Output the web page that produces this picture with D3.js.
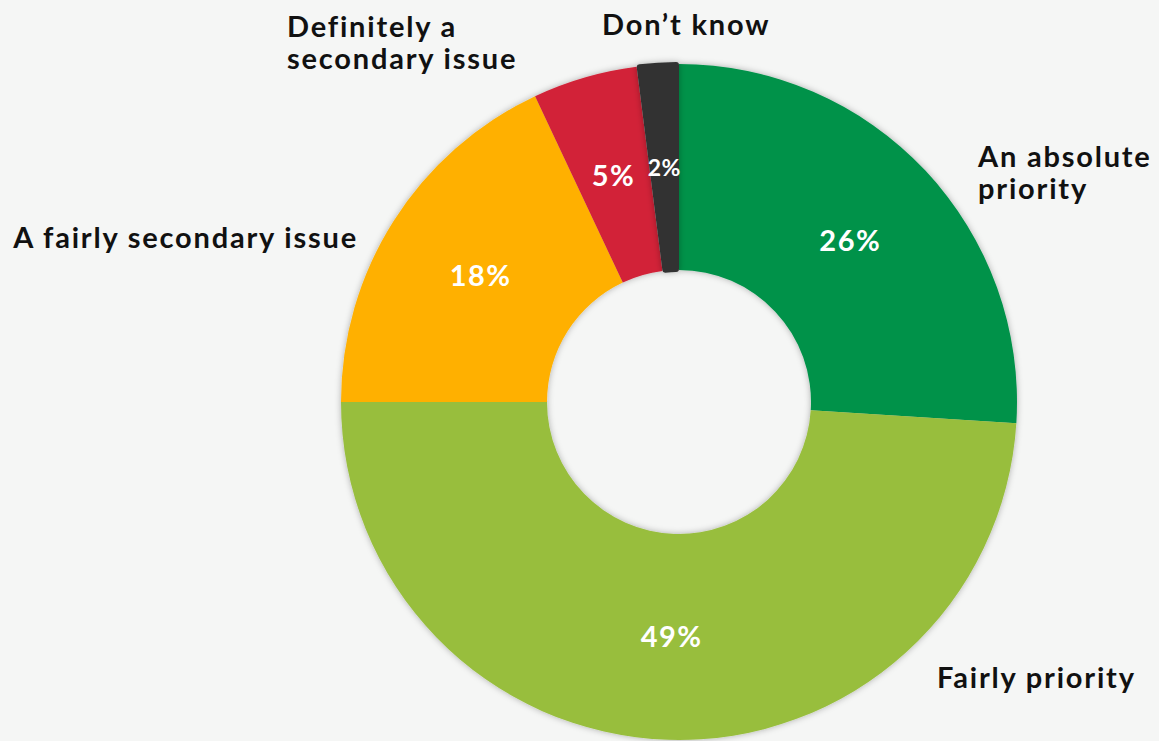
<!DOCTYPE html>
<html>
<head>
<meta charset="utf-8">
<script src="https://cdn.jsdelivr.net/npm/d3@7"></script>
<style>
  html, body { margin: 0; padding: 0; background: #f5f6f5; }
  svg { display: block; }
  text { font-family: Lato, "Noto Sans", sans-serif; font-weight: 700; }
</style>
</head>
<body>
<svg id="chart" width="1159" height="741"></svg>
<script>
// Survey answers, clockwise from 12 o'clock
const categories = ["An absolute priority", "Fairly priority", "A fairly secondary issue", "Definitely a secondary issue", "Don\u2019t know"];
const values = [26, 49, 18, 5, 2];
const colors = ["#00924a", "#98be3e", "#ffb000", "#d22237", "#333333"];

// Outside label placement relative to the donut centre (x offset, first baseline, anchor, lines)
const outerLabels = [
  { dx: 299, dy: -235, anchor: "start", lines: ["An absolute", "priority"] },
  { dx: 258, dy: 286, anchor: "start", lines: ["Fairly priority"] },
  { dx: -321, dy: -154, anchor: "end", lines: ["A fairly secondary issue"] },
  { dx: -392, dy: -365, anchor: "start", lines: ["Definitely a", "secondary issue"] },
  { dx: -77, dy: -367, anchor: "start", lines: ["Don\u2019t know"] }
];

const svg = d3.select("#chart");
const cx = 679, cy = 402;
const outerR = 338, innerR = 132;

const defs = svg.append("defs");
const f = defs.append("filter").attr("id", "shadow")
  .attr("x", "-20%").attr("y", "-20%").attr("width", "140%").attr("height", "140%");
f.append("feDropShadow").attr("dx", 0).attr("dy", 0).attr("stdDeviation", 3)
  .attr("flood-color", "#000").attr("flood-opacity", 0.3);

const data = categories.map((c, i) => ({ name: c, value: values[i], color: colors[i], label: outerLabels[i] }));

const pie = d3.pie().value(d => d.value).sort(null);
const arcs = pie(data);

const arc = d3.arc().innerRadius(innerR).outerRadius(outerR);
// the last, smallest slice is drawn slightly raised with soft corners
const arcRaised = d3.arc().innerRadius(innerR - 2).outerRadius(outerR + 2).cornerRadius(3);

const g = svg.append("g").attr("transform", `translate(${cx},${cy})`);

g.append("g").attr("filter", "url(#shadow)")
  .selectAll("path")
  .data(arcs.slice(0, arcs.length - 1))
  .join("path")
  .attr("d", arc)
  .attr("fill", d => d.data.color);

g.append("path")
  .datum(arcs[arcs.length - 1])
  .attr("filter", "url(#shadow)")
  .attr("d", arcRaised)
  .attr("fill", d => d.data.color);

// percentage labels at slice centroids
g.selectAll("text.pct")
  .data(arcs)
  .join("text")
  .attr("class", "pct")
  .attr("transform", d => `translate(${arc.centroid(d)})`)
  .attr("text-anchor", "middle")
  .attr("dy", "0.35em")
  .attr("fill", "#ffffff")
  .attr("font-size", d => d.data.value < 3 ? 23 : 29)
  .attr("letter-spacing", d => d.data.value < 3 ? 0.5 : 1.5)
  .text(d => d.data.value + "%");

// category labels outside the ring
const ol = g.selectAll("text.cat")
  .data(arcs)
  .join("text")
  .attr("class", "cat")
  .attr("x", d => d.data.label.dx)
  .attr("y", d => d.data.label.dy)
  .attr("text-anchor", d => d.data.label.anchor)
  .attr("fill", "#111111")
  .attr("font-size", 29)
  .attr("letter-spacing", 1.8);

ol.selectAll("tspan")
  .data(d => d.data.label.lines.map((t, i) => ({ t, i, x: d.data.label.dx })))
  .join("tspan")
  .attr("x", d => d.x)
  .attr("dy", d => d.i === 0 ? 0 : 32)
  .text(d => d.t);
</script>
</body>
</html>
